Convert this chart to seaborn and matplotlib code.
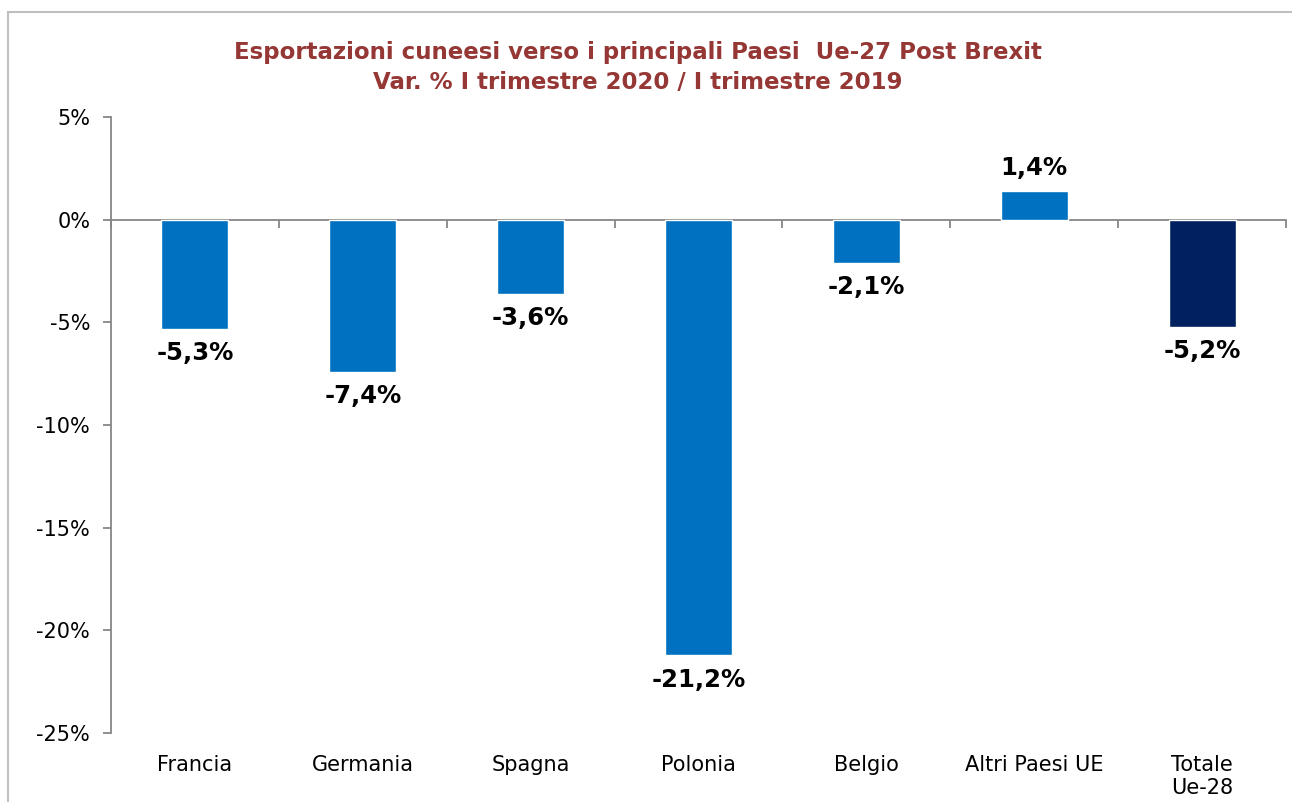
import numpy as np
import pandas as pd
import matplotlib
matplotlib.use("Agg")
import matplotlib.pyplot as plt
import matplotlib.ticker as mticker
from matplotlib.patches import Rectangle
import seaborn as sns

# ---------------------------------------------------------------------------
# Data
# ---------------------------------------------------------------------------

categories = ["Francia", "Germania", "Spagna", "Polonia", "Belgio",
              "Altri Paesi UE", "Totale\nUe-28"]
variazioni = [-5.3, -7.4, -3.6, -21.2, -2.1, 1.4, -5.2]
bar_colors = ["#0070C0"] * 6 + ["#002060"]

title_lines = ["Esportazioni cuneesi verso i principali Paesi  Ue-27 Post Brexit",
               "Var. % I trimestre 2020 / I trimestre 2019"]

# ---------------------------------------------------------------------------
# Style
# ---------------------------------------------------------------------------

sns.set_style("white")
plt.rcParams["font.family"] = ["DejaVu Sans"]
plt.rcParams["text.color"] = "black"
AXIS_GREY = "#868686"
TITLE_RED = "#953735"

df = pd.DataFrame({"paese": categories, "var": variazioni})

fig = plt.figure(figsize=(12.92, 8.02), dpi=100)
ax = fig.add_axes([0.0859, 0.086, 0.9095, 0.768])

sns.barplot(data=df, x="paese", y="var", hue="paese", palette=bar_colors,
            width=0.4, legend=False, saturation=1, ax=ax)

ax.set_ylim(-25, 5)
ax.set_xlim(-0.5, len(categories) - 0.5)
ax.yaxis.set_major_locator(mticker.MultipleLocator(5))
ax.yaxis.set_major_formatter(mticker.FuncFormatter(lambda v, _: f"{v:.0f}%"))
ax.set_xlabel("")
ax.set_ylabel("")

for s in ["top", "right", "bottom"]:
    ax.spines[s].set_visible(False)
ax.spines["left"].set_color(AXIS_GREY)
ax.spines["left"].set_linewidth(1.3)

ax.tick_params(axis="y", left=True, length=6, width=1.3, color=AXIS_GREY,
               labelsize=15, pad=9, labelcolor="black")
ax.tick_params(axis="x", bottom=False, labelsize=15, pad=12, labelcolor="black")

# category axis line drawn at zero, with tick marks between categories
zero_axis = ax.secondary_xaxis(25 / 30)
zero_axis.set_alignment("bottom")
zero_axis.spines["bottom"].set_color(AXIS_GREY)
zero_axis.spines["bottom"].set_linewidth(1.3)
zero_axis.set_xticks(np.arange(-0.5, len(categories), 1.0))
zero_axis.tick_params(axis="x", direction="out", length=6, width=1.3,
                      color=AXIS_GREY, bottom=True, top=False,
                      labelbottom=False, labeltop=False)

# value labels
for i, v in enumerate(variazioni):
    label = f"{v:.1f}%".replace(".", ",")
    if v >= 0:
        ax.annotate(label, (i, v), xytext=(0, 8), textcoords="offset points",
                    ha="center", va="bottom", fontsize=17.5, fontweight="bold",
                    color="black")
    else:
        ax.annotate(label, (i, v), xytext=(0, -9), textcoords="offset points",
                    ha="center", va="top", fontsize=17.5, fontweight="bold",
                    color="black")

fig.text(0.494, 0.935, title_lines[0], ha="center", va="center",
         fontsize=16.5, fontweight="bold", color=TITLE_RED)
fig.text(0.494, 0.897, title_lines[1], ha="center", va="center",
         fontsize=16.5, fontweight="bold", color=TITLE_RED)

# chart frame (cut off at right and bottom in the original)
fig.patches.append(Rectangle((8 / 1292, -0.1), 1.2, 1.1 - 12 / 802,
                             transform=fig.transFigure, fill=False,
                             edgecolor="#BFBFBF", linewidth=1.5))

fig.savefig("out.png", dpi=100)
